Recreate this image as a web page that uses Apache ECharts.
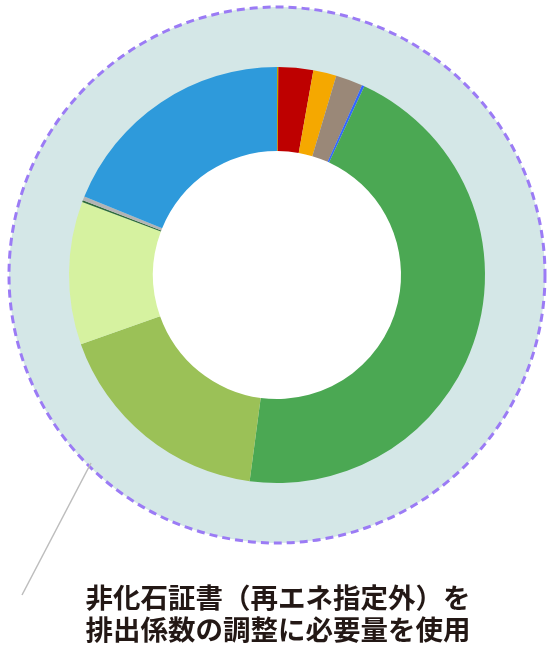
<!DOCTYPE html>
<html>
<head>
<meta charset="utf-8">
<script src="https://cdn.jsdelivr.net/npm/echarts@6/dist/echarts.min.js"></script>
<style>
  html, body { margin: 0; padding: 0; background: #fff; }
  #main { width: 556px; height: 660px; }
</style>
</head>
<body>
<div id="main"></div>
<script>
// slice names (no labels shown in the picture), values in %, colours
const names = ['区分1', '区分2', '区分3', '区分4', '区分5', '区分6', '区分7', '区分8', '区分9', '区分10', '区分11'];
const values = [0.1, 2.7, 1.8, 2.1, 0.2, 45.2, 17.5, 11.1, 0.15, 0.3, 18.85];
const colors = ['#B9A900', '#BE0000', '#F5A800', '#9A8878', '#3366FF', '#4BA853',
                '#9BC157', '#D6F2A0', '#2E6B3A', '#B4B4B4', '#2E9ADB'];
const captionLines = ['非化石証書（再エネ指定外）を', '排出係数の調整に必要量を使用'];

const chart = echarts.init(document.getElementById('main'));

const cx = 277, cy = 275;

const option = {
  animation: false,
  color: colors,
  graphic: [
    {
      type: 'circle',
      z: -10,
      shape: { cx: cx, cy: cy, r: 268 },
      style: {
        fill: '#D4E7E7',
        stroke: '#9B7BF5',
        lineWidth: 3,
        lineDash: [8, 5]
      }
    },
    {
      type: 'circle',
      z: -9,
      shape: { cx: cx, cy: cy, r: 126 },
      style: { fill: '#ffffff' }
    },
    {
      type: 'line',
      z: -10,
      shape: { x1: 22, y1: 595, x2: 91, y2: 463 },
      style: { stroke: '#BDBDBD', lineWidth: 1.5 }
    },
    {
      type: 'text',
      x: 278,
      y: 598,
      style: {
        text: captionLines[0],
        fill: '#231815',
        font: 'bold 27.5px "Noto Sans CJK JP"',
        textAlign: 'center',
        textVerticalAlign: 'middle'
      }
    },
    {
      type: 'text',
      x: 278,
      y: 630,
      style: {
        text: captionLines[1],
        fill: '#231815',
        font: 'bold 27.5px "Noto Sans CJK JP"',
        textAlign: 'center',
        textVerticalAlign: 'middle'
      }
    }
  ],
  series: [
    {
      type: 'pie',
      center: [cx, cy],
      radius: [124, 208],
      startAngle: 90,
      clockwise: true,
      minAngle: 0,
      silent: true,
      label: { show: false },
      labelLine: { show: false },
      itemStyle: { borderWidth: 0 },
      data: names.map((n, i) => ({ name: n, value: values[i] }))
    }
  ]
};

chart.setOption(option);
</script>
</body>
</html>
